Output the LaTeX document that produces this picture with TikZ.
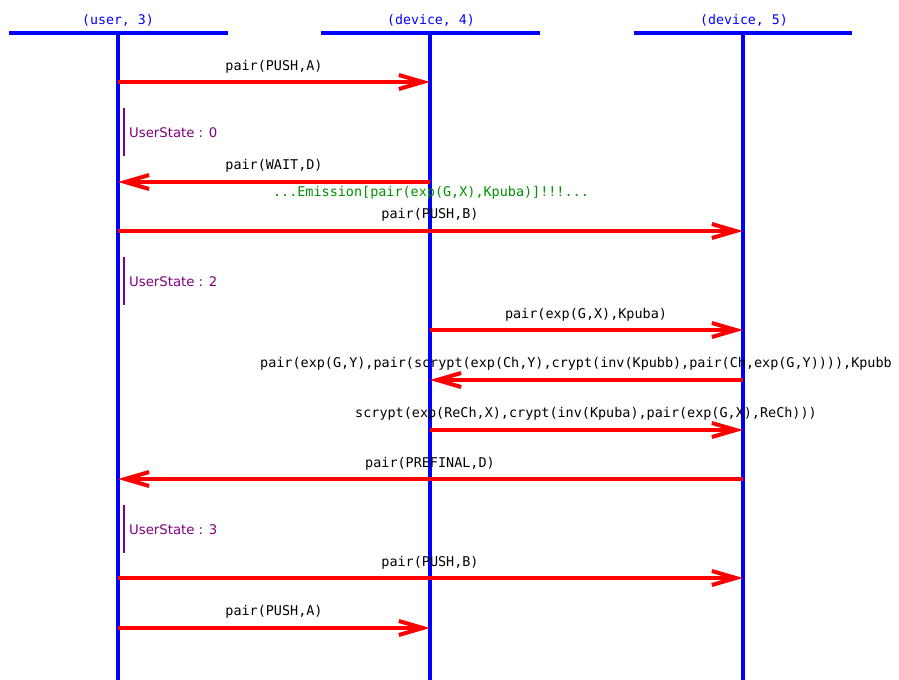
\documentclass[tikz,border=0pt]{standalone}
\usepackage{fontspec}
\setmainfont{DejaVu Sans}
\setmonofont{DejaVu Sans Mono}
\usetikzlibrary{arrows.meta}
\definecolor{lifeblue}{RGB}{0,0,255}
\definecolor{msgred}{RGB}{255,0,0}
\definecolor{statepurple}{RGB}{128,0,128}
\definecolor{emitgreen}{RGB}{0,145,0}
\begin{document}
\begin{tikzpicture}[x=1bp,y=-1bp,
  lifeline/.style={draw=lifeblue, line width=4bp},
  headbar/.style={draw=lifeblue, line width=4bp},
  headlabel/.style={text=lifeblue, font=\ttfamily\fontsize{13.3}{15}\selectfont, inner sep=0pt},
  msg/.style={draw=msgred, line width=4bp, -{Straight Barb[length=24bp, width=14bp]}},
  msglabel/.style={font=\ttfamily\fontsize{13.5}{15}\selectfont, inner sep=0pt},
  emitlabel/.style={text=emitgreen, font=\ttfamily\fontsize{13.5}{15}\selectfont, inner sep=0pt},
  statebar/.style={draw=statepurple, line width=2bp},
  statelabel/.style={text=statepurple, font=\fontsize{13.3}{15}\selectfont, inner sep=0pt, anchor=west}]
\useasboundingbox (0,0) rectangle (899,680);

% participants: header bars, names and lifelines
\coordinate (uTop) at (118,33);   \coordinate (uBot) at (118,680);
\coordinate (aTop) at (430,33);   \coordinate (aBot) at (430,680);
\coordinate (bTop) at (743,33);   \coordinate (bBot) at (743,680);
\coordinate (uL) at (9,33);   \coordinate (uR) at (228,33);
\coordinate (aL) at (321,33); \coordinate (aR) at (540,33);
\coordinate (bL) at (634,33); \coordinate (bR) at (852,33);
\path[headbar] (uL) -- (uR);
\path[headbar] (aL) -- (aR);
\path[headbar] (bL) -- (bR);
\node[headlabel] (uName) at (118,20) {(user, 3)};
\node[headlabel] (aName) at (431,20) {(device, 4)};
\node[headlabel] (bName) at (744,20) {(device, 5)};
\path[lifeline] (uTop) -- (uBot);
\path[lifeline] (aTop) -- (aBot);
\path[lifeline] (bTop) -- (bBot);

% message end points on the lifelines
\foreach \y/\n in {82/1,182/2,231/3,330/4,380/5,430/6,479/7,578/8,628/9}{
  \coordinate (u\n) at (118,\y);
  \coordinate (a\n) at (430,\y);
  \coordinate (b\n) at (743,\y);
}

% messages
\path[msg] (u1) -- (a1);
\node[msglabel] (l1) at (274,67) {pair(PUSH,A)};

\path[statebar] (124,108) coordinate (s0t) -- (124,156) coordinate (s0b);
\node[statelabel] (s0) at (129,133) {UserState : 0};

\path[msg] (a2) -- (u2);
\node[msglabel] (l2) at (274,166) {pair(WAIT,D)};
\node[emitlabel] (e2) at (431,193) {...Emission[pair(exp(G,X),Kpuba)]!!!...};

\path[msg] (u3) -- (b3);
\node[msglabel] (l3) at (430,215) {pair(PUSH,B)};

\path[statebar] (124,257) coordinate (s2t) -- (124,305) coordinate (s2b);
\node[statelabel] (s2) at (129,282) {UserState : 2};

\path[msg] (a4) -- (b4);
\node[msglabel] (l4) at (586,315) {pair(exp(G,X),Kpuba)};

\path[msg] (b5) -- (a5);
\node[msglabel, anchor=west] (l5) at (260,364) {pair(exp(G,Y),pair(scrypt(exp(Ch,Y),crypt(inv(Kpubb),pair(Ch,exp(G,Y)))),Kpubb};

\path[msg] (a6) -- (b6);
\node[msglabel] (l6) at (586,414) {scrypt(exp(ReCh,X),crypt(inv(Kpuba),pair(exp(G,X),ReCh)))};

\path[msg] (b7) -- (u7);
\node[msglabel] (l7) at (430,464) {pair(PREFINAL,D)};

\path[statebar] (124,505) coordinate (s3t) -- (124,553) coordinate (s3b);
\node[statelabel] (s3) at (129,530) {UserState : 3};

\path[msg] (u8) -- (b8);
\node[msglabel] (l8) at (430,563) {pair(PUSH,B)};

\path[msg] (u9) -- (a9);
\node[msglabel] (l9) at (274,612) {pair(PUSH,A)};
\end{tikzpicture}
\end{document}
